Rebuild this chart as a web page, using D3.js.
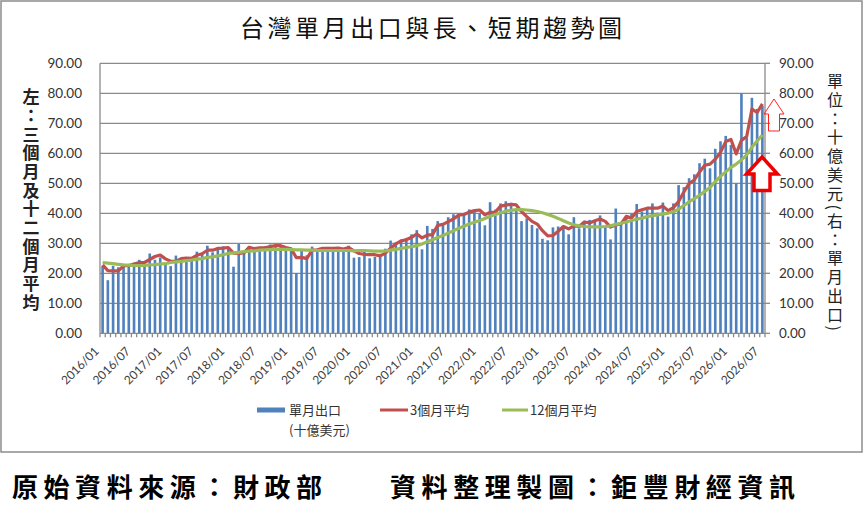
<!DOCTYPE html>
<html>
<head>
<meta charset="utf-8">
<script src="https://cdn.jsdelivr.net/npm/d3@7.9.0/dist/d3.min.js"></script>
<style>
  body { margin: 0; background: #fff; }
  svg { display: block; }
  .cjk { font-family: "Noto Sans CJK TC", sans-serif; }
  .num { font-family: Lato, "Liberation Sans", sans-serif; }
  .vert { writing-mode: vertical-rl; }
</style>
</head>
<body>
<svg id="chart" width="865" height="506"></svg>
<script>
// monthly categories 2016/01 .. 2026/07
const startYear = 2016;
const monthCount = 127;
const months = d3.range(monthCount).map((i) => {
  const yr = startYear + Math.floor(i / 12);
  const mo = (i % 12) + 1;
  return `${yr}/${String(mo).padStart(2, '0')}`;
});

const tickLabels = [
  '2016/01', '2016/07', '2017/01', '2017/07', '2018/01', '2018/07', '2019/01', '2019/07',
  '2020/01', '2020/07', '2021/01', '2021/07', '2022/01', '2022/07', '2023/01', '2023/07',
  '2024/01', '2024/07', '2025/01', '2025/07', '2026/01', '2026/07'
];

const yTicks = [0, 10, 20, 30, 40, 50, 60, 70, 80, 90];

// 單月出口 (十億美元)
const monthlyExports = [
  22.4, 17.7, 22.5, 22.0, 23.0, 22.8, 23.5, 24.5, 22.6, 26.6, 24.5, 25.3,
  23.0, 22.4, 25.9, 24.0, 25.3, 25.4, 27.2, 26.8, 29.2, 27.0, 28.7, 29.0,
  28.6, 22.2, 29.8, 27.2, 29.0, 28.2, 28.1, 29.0, 29.6, 28.8, 29.3, 27.6,
  27.7, 20.1, 28.0, 26.0, 28.9, 27.9, 28.0, 28.8, 27.9, 28.5, 28.0, 29.2,
  25.2, 25.4, 28.0, 25.0, 25.5, 26.5, 28.2, 30.9, 30.3, 31.2, 31.8, 33.0,
  34.4, 28.0, 35.8, 34.8, 37.4, 36.0, 38.7, 39.7, 39.8, 40.0, 41.3, 40.6,
  40.0, 36.0, 43.7, 41.2, 43.3, 44.0, 43.5, 41.5, 37.4, 38.3, 36.1, 35.0,
  31.5, 31.0, 35.3, 35.6, 35.8, 33.0, 38.7, 35.0, 37.5, 37.8, 37.2, 39.3,
  35.5, 31.3, 41.6, 36.7, 38.8, 39.8, 43.1, 40.6, 41.3, 43.3, 40.2, 43.6,
  38.9, 43.3, 49.4, 48.7, 51.7, 53.0, 56.7, 58.2, 55.0, 61.5, 64.0, 65.8,
  62.8, 50.0, 80.0, 65.3, 78.5, 74.8, 75.8
];

// 3個月平均
const avg3 = [
  22.8, 20.9, 20.8, 20.8, 22.5, 22.6, 23.1, 23.6, 23.6, 24.6, 25.6, 26.1,
  24.8, 24.0, 24.0, 24.9, 25.1, 25.0, 26.0, 26.5, 27.7, 27.7, 28.3, 28.4,
  28.6, 26.7, 26.6, 26.8, 28.7, 28.2, 28.5, 28.5, 28.9, 29.2, 29.2, 28.6,
  28.2, 25.2, 25.3, 24.9, 27.7, 27.8, 28.3, 28.3, 28.3, 28.4, 28.1, 28.6,
  27.5, 26.6, 26.3, 26.2, 26.2, 25.8, 26.7, 28.4, 29.8, 30.8, 31.2, 32.0,
  33.1, 31.8, 32.7, 32.9, 36.0, 36.3, 37.2, 38.1, 39.4, 39.6, 40.4, 40.9,
  41.1, 39.5, 40.3, 40.4, 42.4, 42.7, 43.0, 42.8, 40.6, 38.9, 37.3, 36.4,
  34.2, 32.5, 32.6, 34.0, 35.6, 34.8, 35.8, 35.6, 37.1, 36.8, 37.5, 38.1,
  37.3, 35.4, 36.1, 36.5, 39.0, 38.4, 40.6, 41.2, 41.7, 41.7, 41.7, 42.4,
  40.9, 41.9, 43.9, 47.1, 49.9, 51.1, 53.8, 56.0, 56.4, 58.0, 60.3, 63.9,
  64.6, 59.8, 64.3, 65.6, 74.7, 73.6, 76.5
];

// 12個月平均
const avg12 = [
  23.6, 23.4, 23.2, 23.0, 22.8, 22.7, 22.6, 22.6, 22.6, 22.8, 22.9, 23.1,
  23.2, 23.6, 23.8, 24.0, 24.2, 24.4, 24.7, 24.9, 25.3, 25.5, 25.8, 26.2,
  26.6, 26.8, 27.0, 27.2, 27.4, 27.5, 27.7, 27.8, 27.9, 28.0, 28.0, 28.0,
  27.9, 27.8, 27.8, 27.7, 27.7, 27.6, 27.6, 27.6, 27.6, 27.6, 27.6, 27.6,
  27.5, 27.6, 27.6, 27.5, 27.4, 27.4, 27.5, 27.7, 28.0, 28.3, 28.6, 28.9,
  29.2, 29.8, 30.5, 31.2, 31.9, 32.6, 33.4, 34.2, 35.0, 35.7, 36.4, 37.0,
  37.6, 38.3, 39.0, 39.6, 40.2, 40.7, 41.0, 41.2, 41.2, 41.1, 40.9, 40.6,
  40.2, 39.6, 39.0, 38.3, 37.5, 36.8, 36.2, 35.8, 35.6, 35.5, 35.5, 35.5,
  35.6, 35.8, 36.3, 36.7, 37.1, 37.6, 38.0, 38.4, 38.9, 39.2, 39.5, 39.8,
  40.0, 40.5, 41.4, 42.6, 43.8, 44.9, 46.0, 47.3, 48.6, 50.6, 52.3, 53.8,
  55.3, 56.4, 57.8, 59.5, 62.0, 64.1, 66.1
];

const svg = d3.select('#chart');
const plot = { left: 100, right: 765, top: 63.3, bottom: 333.3 };
const gridColor = '#8a8a8a';
const barColor = '#4f81bd';

const x = d3.scaleBand()
  .domain(months)
  .range([plot.left, plot.right])
  .paddingInner(0.5)
  .paddingOuter(0.25);
const y = d3.scaleLinear().domain([0, 90]).range([plot.bottom, plot.top]);
const cx = (i) => x(months[i]) + x.bandwidth() / 2;

// outer frame
svg.append('rect')
  .attr('x', 1).attr('y', 1).attr('width', 861).attr('height', 451)
  .attr('fill', '#fff').attr('stroke', '#8c8c8c').attr('stroke-width', 1.5);

// title
svg.append('text')
  .attr('class', 'cjk')
  .attr('x', 431).attr('y', 37)
  .attr('text-anchor', 'middle')
  .attr('font-size', 24)
  .attr('textLength', 382).attr('lengthAdjust', 'spacing')
  .attr('fill', '#111')
  .text('台灣單月出口與長、短期趨勢圖');

// gridlines
svg.append('g')
  .selectAll('line')
  .data(yTicks.filter((d) => d > 0))
  .join('line')
  .attr('x1', plot.left).attr('x2', plot.right)
  .attr('y1', (d) => y(d)).attr('y2', (d) => y(d))
  .attr('stroke', gridColor).attr('stroke-width', 1.3);

// bars (right axis: 單月出口)
svg.append('g')
  .selectAll('rect')
  .data(monthlyExports)
  .join('rect')
  .attr('x', (d, i) => x(months[i]))
  .attr('width', x.bandwidth())
  .attr('y', (d) => y(d))
  .attr('height', (d) => y(0) - y(d))
  .attr('fill', barColor);

// axis lines
const axes = svg.append('g').attr('stroke', gridColor).attr('stroke-width', 1.3);
axes.append('line').attr('x1', plot.left).attr('x2', plot.left).attr('y1', plot.top).attr('y2', plot.bottom);
axes.append('line').attr('x1', plot.right).attr('x2', plot.right).attr('y1', plot.top).attr('y2', plot.bottom);
axes.append('line').attr('x1', plot.left).attr('x2', plot.right).attr('y1', plot.bottom).attr('y2', plot.bottom);

// category tick marks
axes.selectAll('.ctick')
  .data(d3.range(monthCount + 1))
  .join('line')
  .attr('class', 'ctick')
  .attr('x1', (i) => plot.left + (i * (plot.right - plot.left)) / monthCount)
  .attr('x2', (i) => plot.left + (i * (plot.right - plot.left)) / monthCount)
  .attr('y1', plot.bottom).attr('y2', plot.bottom + 4);

// right axis ticks
axes.selectAll('.rtick')
  .data(yTicks)
  .join('line')
  .attr('class', 'rtick')
  .attr('x1', plot.right).attr('x2', plot.right + 5)
  .attr('y1', (d) => y(d)).attr('y2', (d) => y(d));

// y tick labels
svg.append('g')
  .selectAll('text')
  .data(yTicks)
  .join('text')
  .attr('class', 'num')
  .attr('x', 82).attr('y', (d) => y(d) + 4.5)
  .attr('text-anchor', 'end')
  .attr('font-size', 13.5).attr('fill', '#333')
  .text((d) => d.toFixed(2));

svg.append('g')
  .selectAll('text')
  .data(yTicks)
  .join('text')
  .attr('class', 'num')
  .attr('x', 779).attr('y', (d) => y(d) + 4.5)
  .attr('text-anchor', 'start')
  .attr('font-size', 13.5).attr('fill', '#333')
  .text((d) => d.toFixed(2));

// x labels
svg.append('g')
  .selectAll('text')
  .data(tickLabels)
  .join('text')
  .attr('class', 'num')
  .attr('text-anchor', 'end')
  .attr('font-size', 12).attr('fill', '#404040')
  .attr('transform', (d) => `translate(${x(d) + x.bandwidth() / 2 - 3},${352}) rotate(-45)`)
  .text((d) => d);

// lines
const line = d3.line().x((d, i) => cx(i)).y((d) => y(d));
svg.append('path')
  .datum(avg3)
  .attr('d', line)
  .attr('fill', 'none').attr('stroke', '#c0504d').attr('stroke-width', 3.2)
  .attr('stroke-linejoin', 'round');
svg.append('path')
  .datum(avg12)
  .attr('d', line)
  .attr('fill', 'none').attr('stroke', '#9bbb59').attr('stroke-width', 3.2)
  .attr('stroke-linejoin', 'round');

// side titles, written top to bottom
svg.append('text')
  .attr('class', 'cjk vert')
  .attr('x', 31).attr('y', 88.5)
  .attr('font-size', 17).attr('font-weight', 700).attr('fill', '#222')
  .attr('letter-spacing', 1.66)
  .text('左：三個月及十二個月平均');

svg.append('text')
  .attr('class', 'cjk vert')
  .attr('x', 835).attr('y', 73)
  .attr('font-size', 16).attr('fill', '#222')
  .attr('letter-spacing', 2.8)
  .text('單位：十億美元(右：單月出口)');

// arrows
svg.append('path')
  .attr('d', 'M774,99 L784,114 L779.5,114 L779.5,131 L768.5,131 L768.5,114 L764,114 Z')
  .attr('fill', 'none').attr('stroke', '#ff2020').attr('stroke-width', 1);
svg.append('path')
  .attr('d', 'M762,157 L777.5,174 L770,174 L770,190.5 L754,190.5 L754,174 L746.5,174 Z')
  .attr('fill', '#fff').attr('stroke', '#ee0000').attr('stroke-width', 3.5)
  .attr('stroke-linejoin', 'miter');

// legend
const lg = svg.append('g').attr('class', 'cjk').attr('font-size', 13).attr('fill', '#333');
lg.append('rect').attr('x', 257).attr('y', 407.5).attr('width', 28).attr('height', 5).attr('fill', barColor);
lg.append('text').attr('x', 289).attr('y', 414.5).text('單月出口');
lg.append('text').attr('x', 289).attr('y', 434.5).text('(十億美元)');
lg.append('line').attr('x1', 380).attr('x2', 408).attr('y1', 410).attr('y2', 410)
  .attr('stroke', '#c0504d').attr('stroke-width', 3);
lg.append('text').attr('x', 410).attr('y', 414.5).text('3個月平均');
lg.append('line').attr('x1', 502).attr('x2', 528).attr('y1', 410).attr('y2', 410)
  .attr('stroke', '#9bbb59').attr('stroke-width', 3);
lg.append('text').attr('x', 530).attr('y', 414.5).text('12個月平均');

// footer
const ft = svg.append('g').attr('class', 'cjk').attr('font-size', 26).attr('font-weight', 700).attr('fill', '#000');
ft.append('text').attr('x', 12).attr('y', 497)
  .attr('textLength', 310).attr('lengthAdjust', 'spacing')
  .text('原始資料來源：財政部');
ft.append('text').attr('x', 390).attr('y', 497)
  .attr('textLength', 405).attr('lengthAdjust', 'spacing')
  .text('資料整理製圖：鉅豐財經資訊');
</script>
</body>
</html>
